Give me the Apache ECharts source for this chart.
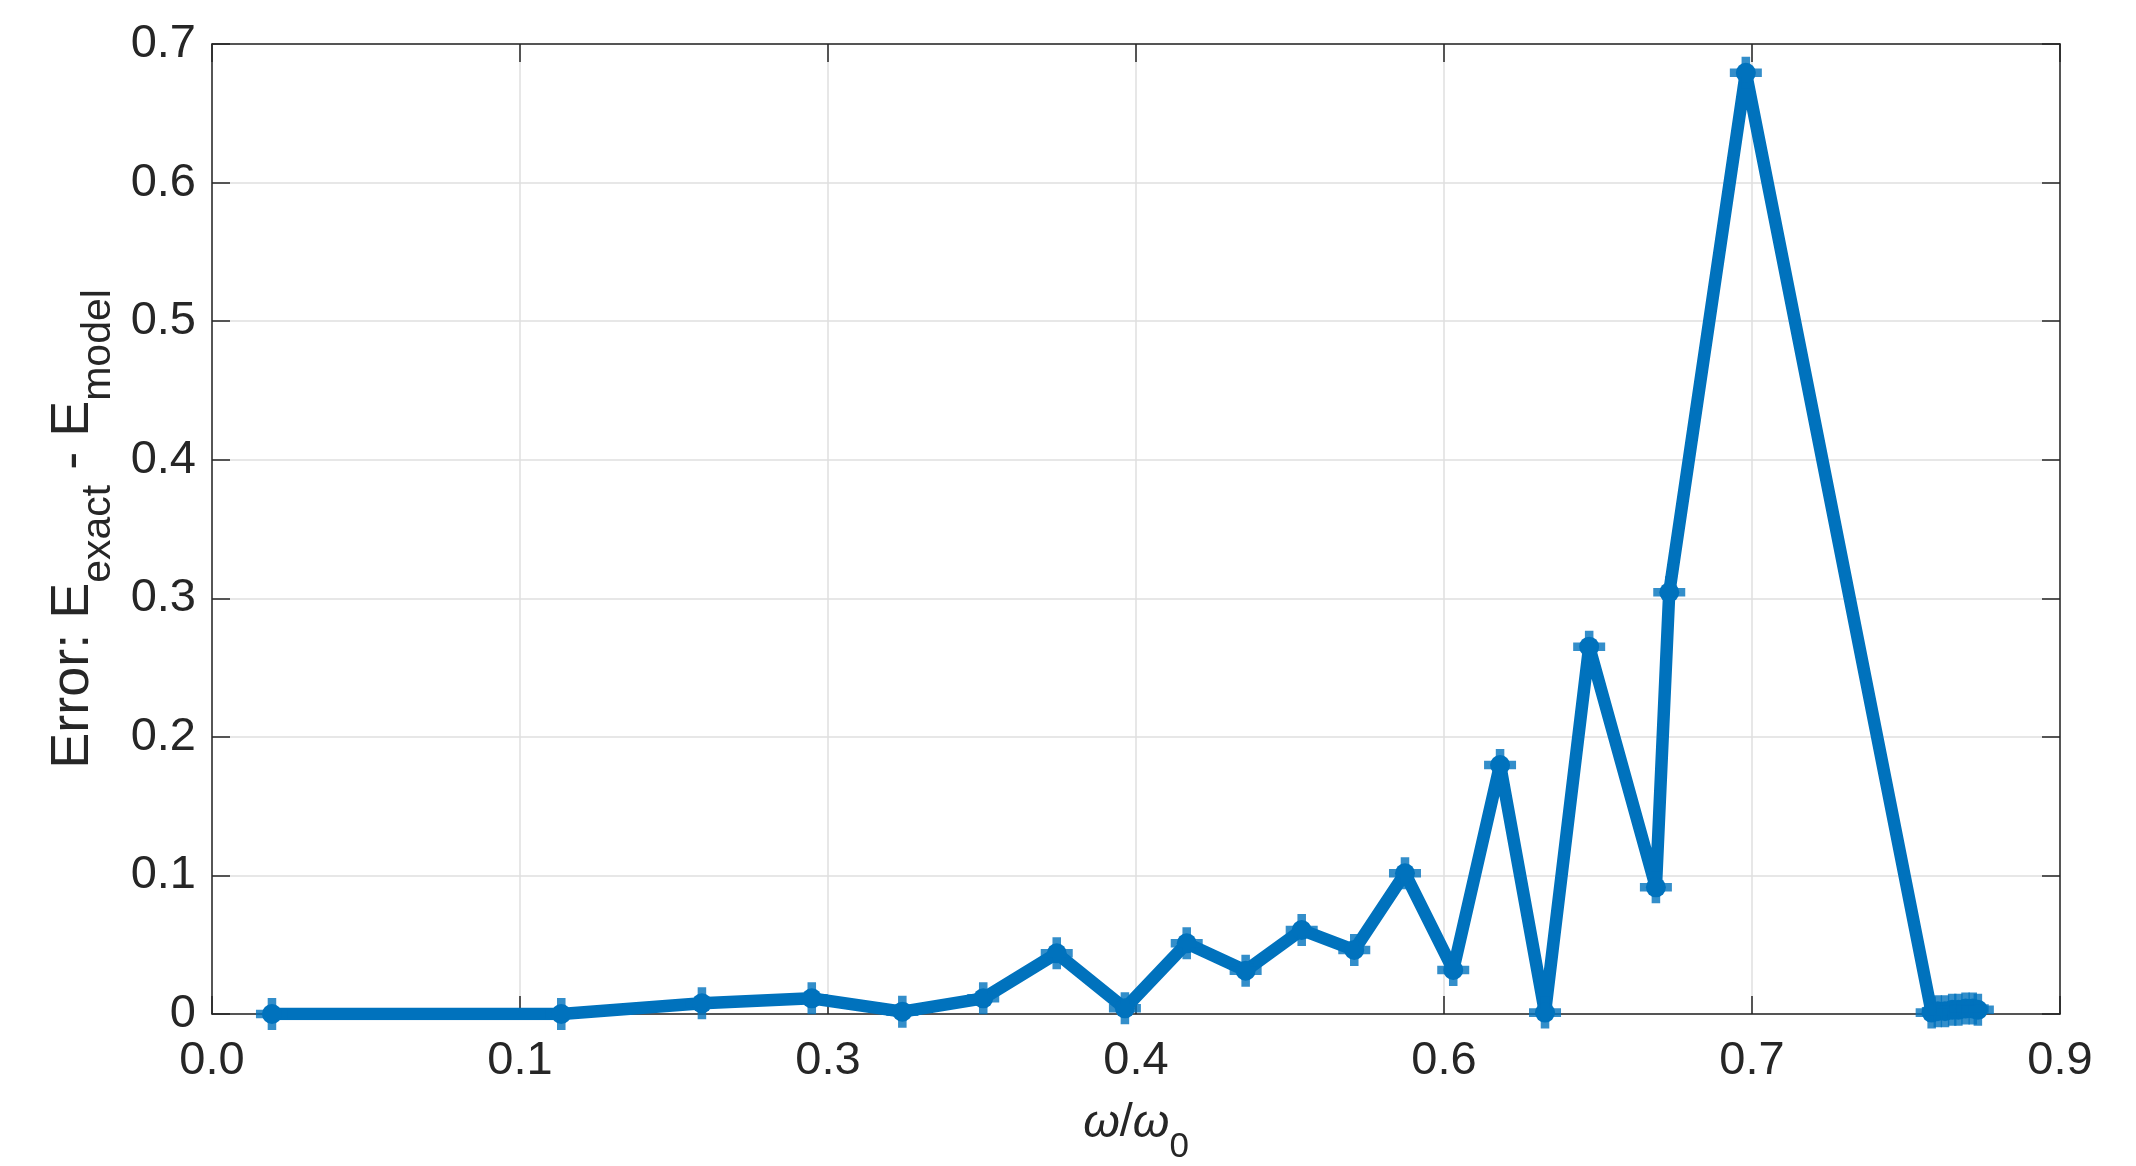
<!DOCTYPE html>
<html>
<head>
<meta charset="utf-8">
<script src="https://cdn.jsdelivr.net/npm/echarts@6/dist/echarts.min.js"></script>
<style>
html,body{margin:0;padding:0;background:#fff;}
#chart{width:2136px;height:1166px;}
</style>
</head>
<body>
<div id="chart"></div>
<script>
// omega / omega_0 (x) and error E_exact - E_model (y)
const omegaRatio = [0.0292, 0.1701, 0.2386, 0.2921, 0.3362, 0.3756, 0.4114, 0.4446, 0.4747, 0.5034,
  0.5307, 0.5563, 0.5810, 0.6045, 0.6273, 0.6492, 0.6707, 0.7032, 0.7097, 0.7470,
  0.8375, 0.8405, 0.8440, 0.8475, 0.8505, 0.8540, 0.8575, 0.8600];
const errorValues = [0.000, 0.000, 0.0077, 0.0113, 0.0017, 0.0113, 0.0438, 0.0041, 0.0510, 0.0313,
  0.0606, 0.0462, 0.1015, 0.0318, 0.1797, 0.0010, 0.2651, 0.0914, 0.3043, 0.6792,
  0.001, 0.002, 0.002, 0.003, 0.003, 0.004, 0.004, 0.003];
const xTickValues = [0, 0.15, 0.30, 0.45, 0.60, 0.75, 0.90];
const xTickLabels = ['0.0', '0.1', '0.3', '0.4', '0.6', '0.7', '0.9'];
const yTickLabels = ['0', '0.1', '0.2', '0.3', '0.4', '0.5', '0.6', '0.7'];

const points = omegaRatio.map((x, i) => [x, errorValues[i]]);
const blue = '#0072BD';
const axisColor = '#262626';
const gridColor = '#dfdfdf';
const font = 'Helvetica, "Liberation Sans", Arial, sans-serif';
const plusPath = 'path://M11,0 L19,0 L19,11 L30,11 L30,19 L19,19 L19,30 L11,30 L11,19 L0,19 L0,11 L11,11 Z';

function xLabel(v) {
  const i = xTickValues.findIndex(t => Math.abs(t - v) < 1e-6);
  return i >= 0 ? xTickLabels[i] : '';
}
function yLabel(v) {
  const i = Math.round(v * 10);
  return yTickLabels[i] !== undefined ? yTickLabels[i] : '';
}

const baseX = {
  type: 'value', min: 0, max: 0.9, interval: 0.15,
  axisLine: { show: true, onZero: false, lineStyle: { color: axisColor, width: 1.5 } },
  axisTick: { show: true, inside: true, length: 18, lineStyle: { color: axisColor, width: 1.5 } },
  splitLine: { show: false }
};
const baseY = {
  type: 'value', min: 0, max: 0.7, interval: 0.1,
  axisLine: { show: true, onZero: false, lineStyle: { color: axisColor, width: 1.5 } },
  axisTick: { show: true, inside: true, length: 18, lineStyle: { color: axisColor, width: 1.5 } },
  splitLine: { show: false }
};

const chart = echarts.init(document.getElementById('chart'), null, { renderer: 'canvas' });
chart.setOption({
  animation: false,
  backgroundColor: '#ffffff',
  grid: { left: 212, right: 76, top: 44, bottom: 152, containLabel: false, outerBoundsMode: 'none' },
  xAxis: [
    Object.assign({}, baseX, {
      position: 'bottom',
      splitLine: { show: true, lineStyle: { color: gridColor, width: 1.5 } },
      axisLabel: { show: true, formatter: xLabel, color: axisColor, fontSize: 47, fontFamily: font, margin: 24 },
      name: '{i|ω}{n|/}{i|ω}{s|0}',
      nameLocation: 'middle',
      nameGap: 86,
      nameTextStyle: {
        color: axisColor, fontFamily: font,
        rich: {
          i: { fontSize: 47, fontStyle: 'italic', fontFamily: font, color: axisColor, verticalAlign: 'top', lineHeight: 50 },
          n: { fontSize: 47, fontFamily: font, color: axisColor, verticalAlign: 'top', lineHeight: 50 },
          s: { fontSize: 35, fontFamily: font, color: axisColor, verticalAlign: 'top', lineHeight: 36, padding: [30, 0, 0, 0] }
        }
      }
    }),
    Object.assign({}, baseX, { position: 'top', axisLabel: { show: false } })
  ],
  yAxis: [
    Object.assign({}, baseY, {
      position: 'left',
      splitLine: { show: true, lineStyle: { color: gridColor, width: 1.5 } },
      axisLabel: { show: true, formatter: yLabel, color: axisColor, fontSize: 47, fontFamily: font, margin: 16 },
      name: '{m|Error: E}{s|exact}{m| - E}{s|model}',
      nameLocation: 'middle',
      nameGap: 108,
      nameTextStyle: {
        color: axisColor, fontFamily: font,
        rich: {
          m: { fontSize: 54, fontFamily: font, color: axisColor, verticalAlign: 'top', lineHeight: 58 },
          s: { fontSize: 41, fontFamily: font, color: axisColor, verticalAlign: 'top', lineHeight: 42, padding: [32, 0, 0, 0] }
        }
      }
    }),
    Object.assign({}, baseY, { position: 'right', axisLabel: { show: false } })
  ],
  series: [
    {
      type: 'line',
      xAxisIndex: 0, yAxisIndex: 0,
      data: points,
      symbol: 'circle',
      symbolSize: 20,
      showAllSymbol: true,
      itemStyle: { color: blue },
      lineStyle: { color: blue, width: 12.5, join: 'round', cap: 'round' },
      silent: true,
      z: 3
    },
    {
      type: 'scatter',
      xAxisIndex: 0, yAxisIndex: 0,
      data: points,
      symbol: plusPath,
      symbolSize: 32,
      itemStyle: { color: blue },
      silent: true,
      z: 4
    }
  ]
});
</script>
</body>
</html>
